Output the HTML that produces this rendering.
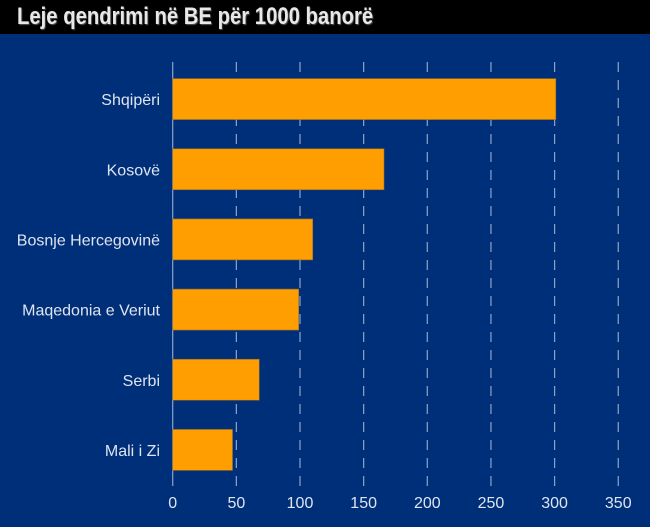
<!DOCTYPE html>
<html><head><meta charset="utf-8"><style>
body{margin:0;width:650px;height:527px;background:#002f7a;overflow:hidden;font-family:"Liberation Sans Narrow","Liberation Sans",sans-serif}
#title{position:absolute;left:0;top:0;width:650px;height:34px;background:#000;}
#title span{position:absolute;left:17px;top:3px;font-size:24px;font-weight:bold;color:#e8e8e8;text-shadow:1px 1px 1px #555;white-space:nowrap;transform:scaleX(0.845);transform-origin:left top}
svg{position:absolute;left:0;top:0}
</style></head><body>
<div id="title"><span>Leje qendrimi në BE për 1000 banorë</span></div>
<svg id="chart" width="650" height="527"></svg>
<script>
const categories=["Shqipëri","Kosovë","Bosnje Hercegovinë","Maqedonia e Veriut","Serbi","Mali i Zi"];
const values=[301,166,110,99,68,47];
const ticks=[0,50,100,150,200,250,300,350];
const NS="http://www.w3.org/2000/svg";
const svgEl=document.getElementById('chart');
const x0=172.7,scale=1.273,plotTop=64,plotBottom=485,band=(plotBottom-plotTop)/categories.length,bh=41;
const xs=v=>x0+v*scale;
function mk(t,a){const e=document.createElementNS(NS,t);for(const k in a)e.setAttribute(k,a[k]);svgEl.appendChild(e);return e;}
ticks.forEach(t=>{
  const l=mk('line',{x1:xs(t),x2:xs(t),y1:62,y2:486,stroke:'#8fa3c8','stroke-width':1.2,'stroke-dasharray':t===0?'none':'10,8'});
  
  
  const tx=mk('text',{x:xs(t),y:508,'text-anchor':'middle',fill:'#dfe4ee','font-size':16,'font-family':'"Liberation Sans Narrow","Liberation Sans",sans-serif'});
  tx.textContent=t;
  
  
});
categories.forEach((c,i)=>{
  const cy=plotTop+band*(i+0.5);
  const r=mk('rect',{x:xs(0),y:cy-bh/2,width:xs(values[i])-xs(0),height:bh,fill:'#ff9e00',stroke:'#8a6a30','stroke-width':0.6});
  
  
  const tx=mk('text',{x:160,y:cy+6,'text-anchor':'end',fill:'#dfe4ee','font-size':16,'font-family':'"Liberation Sans Narrow","Liberation Sans",sans-serif'});
  tx.textContent=c;
  
  
});
</script>
</body></html>
